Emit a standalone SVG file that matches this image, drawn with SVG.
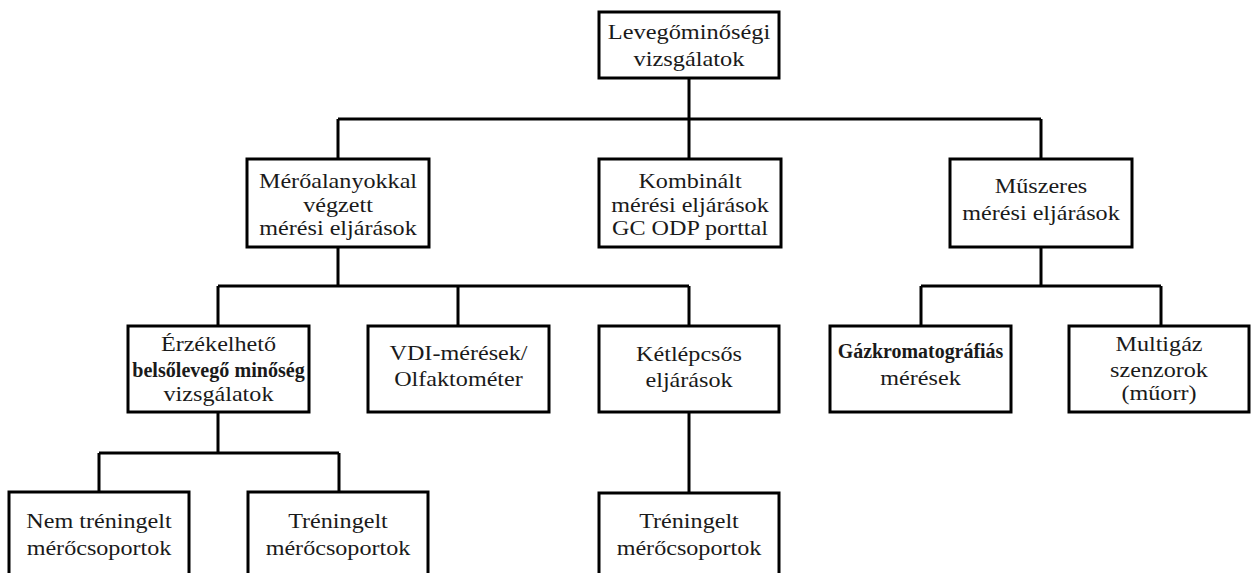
<svg xmlns="http://www.w3.org/2000/svg" width="1251" height="573" viewBox="0 0 1251 573">
<style>
.box{fill:#fff;stroke:#000;stroke-width:3}
.ln{fill:none;stroke:#000;stroke-width:3}
.t{font-family:'Liberation Serif','Times New Roman',serif;font-size:21px;fill:#1a1a1a;text-anchor:middle}
.b{font-weight:bold}
</style>
<rect width="1251" height="573" fill="#fff"/>
<g id="connectors">
<path class="ln" d="M689 78V119M338 119H1041M338 119V159M689 119V159M1041 119V159"/>
<path class="ln" d="M338 247V286M218 286H689M218 286V326M458 286V326M689 286V326"/>
<path class="ln" d="M689 412V493"/>
<path class="ln" d="M218 412V453M99 453H339M99 453V492M339 453V492"/>
<path class="ln" d="M1041 247V286M921 286H1161M921 286V326M1161 286V326"/>
</g>
<g id="n-root"><rect class="box" x="599" y="12" width="180" height="66"/>
<text class="t" transform="translate(689 0) scale(1.16 1)"><tspan x="0" y="39">Levegőminőségi</tspan><tspan x="0" y="66">vizsgálatok</tspan></text></g>
<g id="n-mero"><rect class="box" x="247" y="159" width="182" height="88"/>
<text class="t" transform="translate(338 0) scale(1.15 1)"><tspan x="0" y="188">Mérőalanyokkal</tspan><tspan x="0" y="212">végzett</tspan><tspan x="0" y="235">mérési eljárások</tspan></text></g>
<g id="n-komb"><rect class="box" x="599" y="159" width="182" height="88"/>
<text class="t" transform="translate(690 0) scale(1.15 1)"><tspan x="0" y="188">Kombinált</tspan><tspan x="0" y="212">mérési eljárások</tspan><tspan x="0" y="235">GC ODP porttal</tspan></text></g>
<g id="n-musz"><rect class="box" x="950" y="159" width="182" height="88"/>
<text class="t" transform="translate(1041 0) scale(1.15 1)"><tspan x="0" y="193">Műszeres</tspan><tspan x="0" y="220">mérési eljárások</tspan></text></g>
<g id="n-erz"><rect class="box" x="128" y="326" width="181" height="86"/>
<text class="t" transform="translate(218.5 0) scale(1.15 1)"><tspan x="0" y="351">Érzékelhető</tspan><tspan class="b" x="0" y="377" textLength="150" lengthAdjust="spacingAndGlyphs">belsőlevegő minőség</tspan><tspan x="0" y="401">vizsgálatok</tspan></text></g>
<g id="n-vdi"><rect class="box" x="368" y="326" width="181" height="86"/>
<text class="t" transform="translate(458.5 0) scale(1.15 1)"><tspan x="0" y="360">VDI-mérések/</tspan><tspan x="0" y="386">Olfaktométer</tspan></text></g>
<g id="n-ketl"><rect class="box" x="599" y="326" width="180" height="86"/>
<text class="t" transform="translate(689 0) scale(1.15 1)"><tspan x="0" y="361">Kétlépcsős</tspan><tspan x="0" y="387">eljárások</tspan></text></g>
<g id="n-gaz"><rect class="box" x="830" y="326" width="181" height="86"/>
<text class="t" transform="translate(920.5 0) scale(1.15 1)"><tspan class="b" x="0" y="358" textLength="144" lengthAdjust="spacingAndGlyphs">Gázkromatográfiás</tspan><tspan x="0" y="385">mérések</tspan></text></g>
<g id="n-multi"><rect class="box" x="1069" y="326" width="180" height="86"/>
<text class="t" transform="translate(1159 0) scale(1.15 1)"><tspan x="0" y="351">Multigáz</tspan><tspan x="0" y="377">szenzorok</tspan><tspan x="0" y="400">(műorr)</tspan></text></g>
<g id="n-nem"><rect class="box" x="9" y="492" width="180" height="100"/>
<text class="t" transform="translate(99 0) scale(1.15 1)"><tspan x="0" y="528">Nem tréningelt</tspan><tspan x="0" y="555">mérőcsoportok</tspan></text></g>
<g id="n-tren1"><rect class="box" x="248" y="492" width="180" height="100"/>
<text class="t" transform="translate(338 0) scale(1.15 1)"><tspan x="0" y="528">Tréningelt</tspan><tspan x="0" y="555">mérőcsoportok</tspan></text></g>
<g id="n-tren2"><rect class="box" x="599" y="493" width="180" height="100"/>
<text class="t" transform="translate(689 0) scale(1.15 1)"><tspan x="0" y="528">Tréningelt</tspan><tspan x="0" y="555">mérőcsoportok</tspan></text></g>
</svg>
